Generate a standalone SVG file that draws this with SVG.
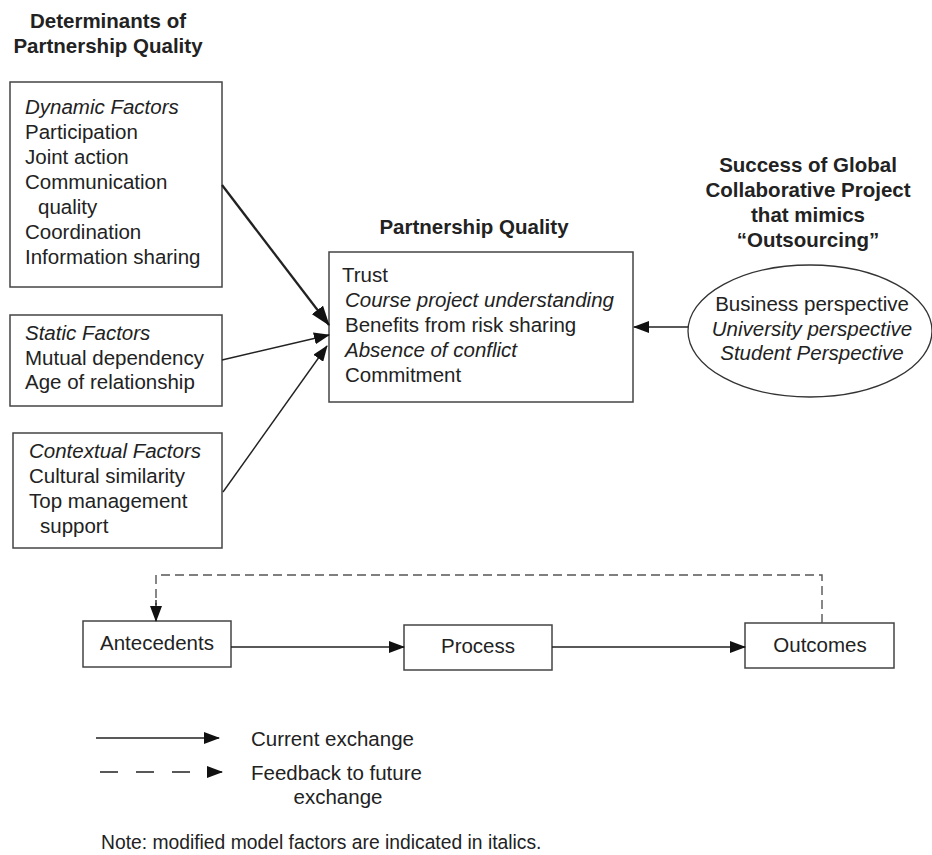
<svg xmlns="http://www.w3.org/2000/svg" width="932" height="855" viewBox="0 0 932 855">
<defs>
<style>
text{font-family:"Liberation Sans",Arial,sans-serif;font-size:20.5px;fill:#222}
.b{font-weight:bold}
.i{font-style:italic}
.m{text-anchor:middle}
.box{fill:#fff;stroke:#444;stroke-width:1.5}
.ln{fill:none;stroke:#222;stroke-width:1.4}
.thick{stroke-width:2.3}
.dash{fill:none;stroke:#555;stroke-width:1.4;stroke-dasharray:9 5}
.note{font-size:19.3px}
</style>
<marker id="ah" markerUnits="userSpaceOnUse" markerWidth="16" markerHeight="12" refX="15" refY="6" orient="auto">
<path d="M0,0 L16,6 L0,12 Z" fill="#111"/>
</marker>
<marker id="ahb" markerUnits="userSpaceOnUse" markerWidth="20" markerHeight="14" refX="19" refY="7" orient="auto">
<path d="M0,0 L20,7 L0,14 Z" fill="#111"/>
</marker>
</defs>
<rect width="932" height="855" fill="#fff"/>

<g id="title-determinants">
<text class="b m" x="108" y="28">Determinants of</text>
<text class="b m" x="108" y="53">Partnership Quality</text>
</g>

<g id="dynamic">
<rect class="box" x="10" y="82" width="212" height="205"/>
<text class="i" x="25" y="114">Dynamic Factors</text>
<text x="25" y="139">Participation</text>
<text x="25" y="164">Joint action</text>
<text x="25" y="189">Communication</text>
<text x="38" y="214">quality</text>
<text x="25" y="239">Coordination</text>
<text x="25" y="264">Information sharing</text>
</g>

<g id="static">
<rect class="box" x="10" y="315" width="212" height="91"/>
<text class="i" x="25" y="340">Static Factors</text>
<text x="25" y="365">Mutual dependency</text>
<text x="25" y="389">Age of relationship</text>
</g>

<g id="contextual">
<rect class="box" x="13" y="433" width="209" height="115"/>
<text class="i" x="29" y="458">Contextual Factors</text>
<text x="29" y="483">Cultural similarity</text>
<text x="29" y="508">Top management</text>
<text x="40" y="533">support</text>
</g>

<g id="partnership-quality">
<text class="b m" x="474" y="234">Partnership Quality</text>
<rect class="box" x="329" y="252" width="304" height="150"/>
<text x="342" y="282">Trust</text>
<text class="i" x="345" y="307">Course project understanding</text>
<text x="345" y="332">Benefits from risk sharing</text>
<text class="i" x="345" y="357">Absence of conflict</text>
<text x="345" y="382">Commitment</text>
</g>

<g id="success">
<text class="b m" x="808" y="172">Success of Global</text>
<text class="b m" x="808" y="197">Collaborative Project</text>
<text class="b m" x="808" y="222">that mimics</text>
<text class="b m" x="808" y="247">“Outsourcing”</text>
<ellipse cx="810" cy="331" rx="122" ry="66" fill="#fff" stroke="#333" stroke-width="1.3"/>
<text class="m" x="812" y="311">Business perspective</text>
<text class="i m" x="812" y="336">University perspective</text>
<text class="i m" x="812" y="360">Student Perspective</text>
</g>

<g id="antecedents">
<rect class="box" x="83" y="621" width="148" height="46"/>
<text class="m" x="157" y="650">Antecedents</text>
</g>
<g id="process">
<rect class="box" x="404" y="625" width="148" height="45"/>
<text class="m" x="478" y="653">Process</text>
</g>
<g id="outcomes">
<rect class="box" x="745" y="623" width="149" height="45"/>
<text class="m" x="820" y="652">Outcomes</text>
</g>

<g id="connectors">
<line class="ln thick" x1="222" y1="185" x2="329" y2="325" marker-end="url(#ahb)"/>
<line class="ln" x1="222" y1="360" x2="329" y2="335" marker-end="url(#ah)"/>
<line class="ln" x1="223" y1="492" x2="327" y2="346" marker-end="url(#ah)"/>
<line class="ln" x1="688" y1="327" x2="634" y2="327" marker-end="url(#ah)"/>
<line class="ln" x1="231" y1="647" x2="404" y2="647" marker-end="url(#ah)"/>
<line class="ln" x1="552" y1="647" x2="745" y2="647" marker-end="url(#ah)"/>
<path class="dash" d="M822,623 V575 H156 V605"/>
<line class="ln" x1="156" y1="600" x2="156" y2="621" marker-end="url(#ah)"/>
</g>

<g id="legend">
<line class="ln" x1="96" y1="738" x2="219" y2="738" marker-end="url(#ah)"/>
<text x="251" y="746">Current exchange</text>
<line x1="100" y1="772" x2="222" y2="772" stroke="#222" stroke-width="1.4" stroke-dasharray="18 18" marker-end="url(#ah)"/>
<text x="251" y="780">Feedback to future</text>
<text class="m" x="338" y="804">exchange</text>
<text class="note" x="101" y="849">Note: modified model factors are indicated in italics.</text>
</g>
</svg>
